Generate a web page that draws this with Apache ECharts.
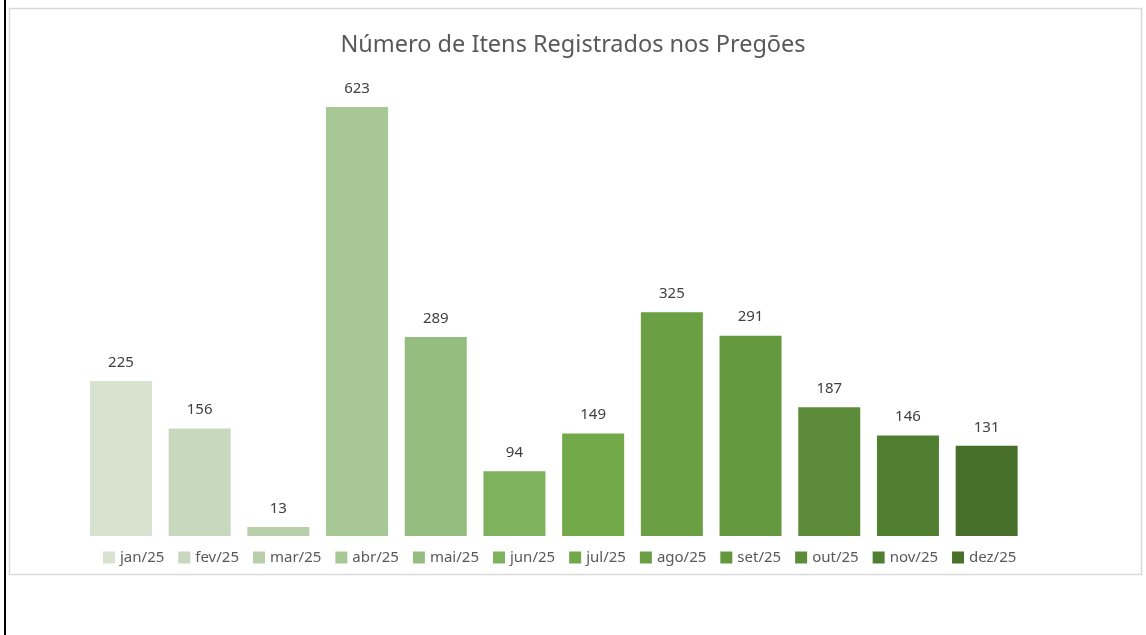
<!DOCTYPE html>
<html>
<head>
<meta charset="utf-8">
<script src="https://cdn.jsdelivr.net/npm/echarts@6/dist/echarts.min.js"></script>
<style>
  html, body { margin: 0; padding: 0; background: #fff; }
  #chart { width: 1146px; height: 635px; }
</style>
</head>
<body>
<div id="chart"></div>
<script>
const months = ['jan/25', 'fev/25', 'mar/25', 'abr/25', 'mai/25', 'jun/25',
                'jul/25', 'ago/25', 'set/25', 'out/25', 'nov/25', 'dez/25'];
const itens = [225, 156, 13, 623, 289, 94, 149, 325, 291, 187, 146, 131];
const colors = ['#d7e2cf', '#c6d8be', '#b8d0aa', '#a7c895', '#96bd80', '#7eb25d',
                '#72a948', '#6a9f43', '#64983f', '#5c8b3a', '#517f32', '#48702b'];

const font = 'Noto Sans';

// one series per month so each gets its own legend entry
const series = months.map((m, i) => ({
  name: m,
  type: 'bar',
  stack: 'total',
  barWidth: 62,
  data: itens.map((v, j) => (j === i ? v : '-')),
  itemStyle: { color: colors[i] },
  label: {
    show: true,
    position: 'top',
    distance: 11,
    color: '#404040',
    fontFamily: font,
    fontSize: 15
  }
}));

const chart = echarts.init(document.getElementById('chart'));
chart.setOption({
  animation: false,
  title: {
    text: 'Número de Itens Registrados nos Pregões',
    left: 'center',
    top: 28,
    textStyle: { color: '#595959', fontFamily: font, fontSize: 23.5, fontWeight: 'normal' }
  },
  legend: {
    bottom: 65,
    left: 98,
    itemWidth: 12,
    itemHeight: 12,
    itemGap: 14,
    icon: 'rect',
    textStyle: { color: '#595959', fontFamily: font, fontSize: 15 },
    data: months
  },
  grid: { left: 81.6, width: 944.4, top: 54, bottom: 99 },
  xAxis: {
    type: 'category',
    data: months,
    show: false
  },
  yAxis: {
    type: 'value',
    min: 0,
    max: 700,
    show: false
  },
  graphic: [
    {
      type: 'rect',
      shape: { x: 9.5, y: 8.5, width: 1132, height: 566 },
      style: { fill: 'none', stroke: '#d9d9d9', lineWidth: 1.5 },
      z: -1
    },
    {
      type: 'rect',
      shape: { x: 4, y: 0, width: 2, height: 635 },
      style: { fill: '#000' }
    }
  ],
  series: series
});
</script>
</body>
</html>
